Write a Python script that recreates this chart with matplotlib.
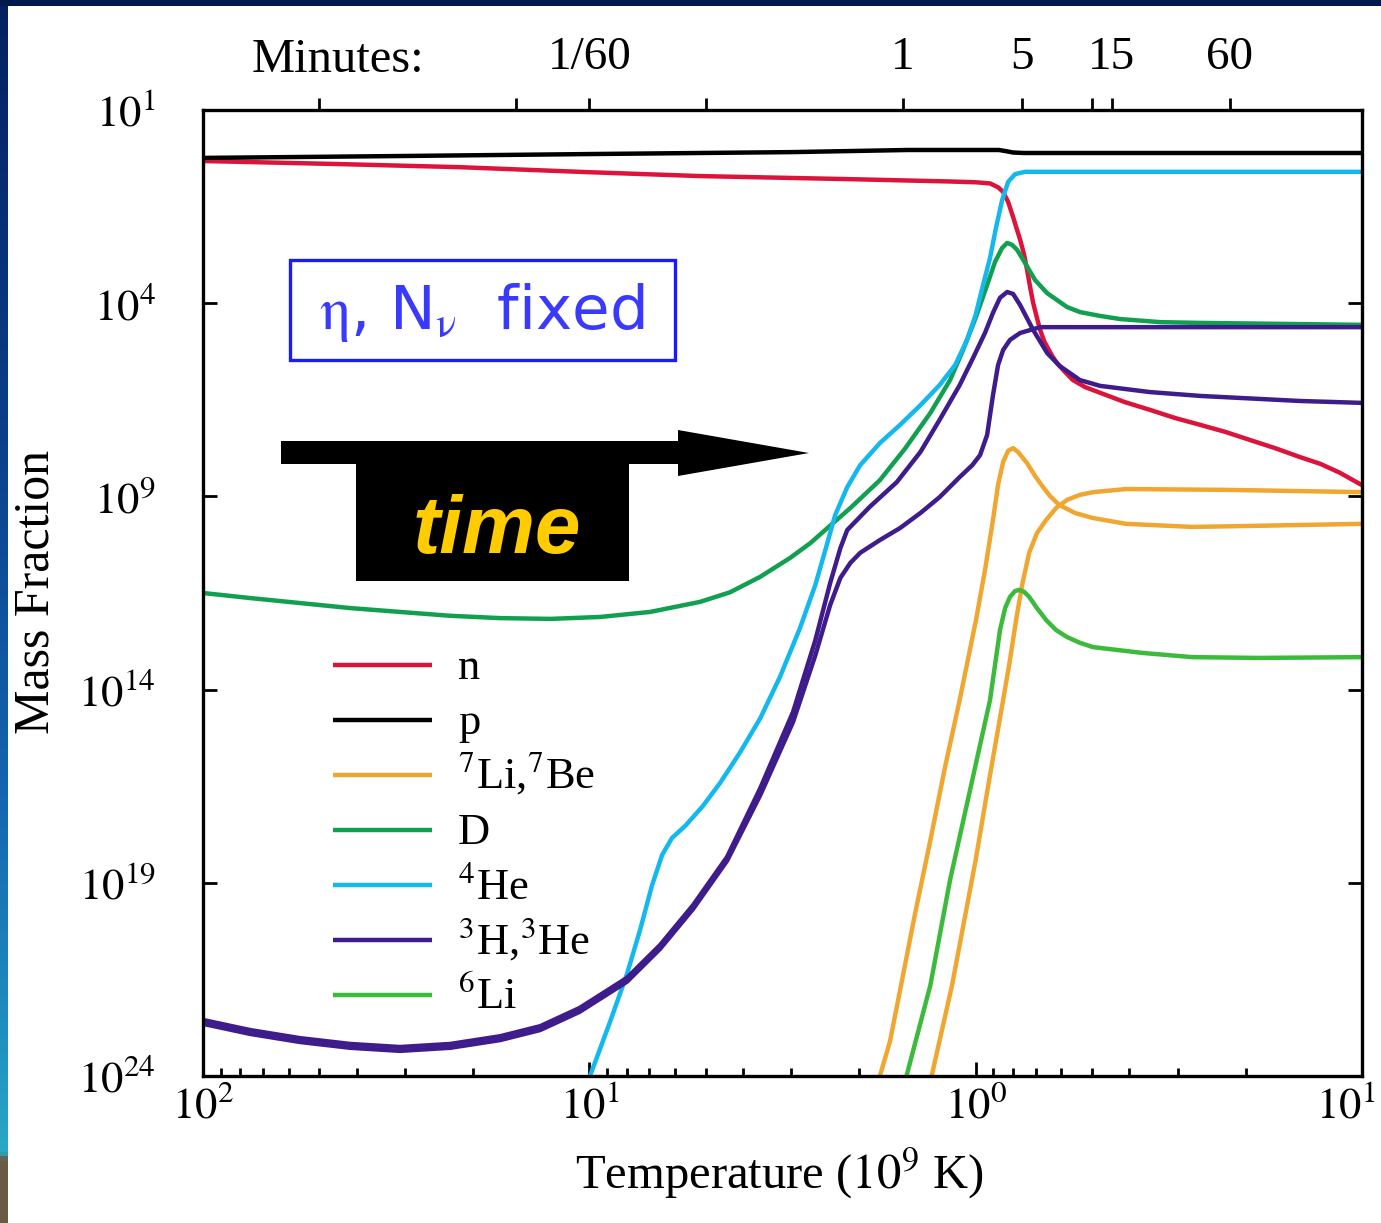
import numpy as np
import matplotlib
matplotlib.use('Agg')
import matplotlib.pyplot as plt
from matplotlib.patches import Rectangle, Polygon
from matplotlib.transforms import Affine2D, ScaledTranslation
from matplotlib.ticker import NullFormatter, FixedLocator
from matplotlib.colors import LinearSegmentedColormap

plt.rcParams['font.family'] = ['Liberation Serif', 'DejaVu Serif']
plt.rcParams['mathtext.fontset'] = 'stix'

# ---- data: temperature in 10^9 K, log10 of mass fraction ----
T_n = [100, 44.2, 21.6, 10.0, 5.17, 2.11, 1.165, 1.0, 0.918, 0.875, 0.849, 0.824, 0.800,
       0.781, 0.767, 0.749, 0.736, 0.723, 0.710, 0.694, 0.681, 0.665, 0.653, 0.634, 0.616,
       0.587, 0.560, 0.521, 0.476, 0.411, 0.354, 0.305, 0.262, 0.226, 0.195, 0.168, 0.145,
       0.128, 0.114, 0.1]
logX_n = [-0.32, -0.40, -0.48, -0.61, -0.71, -0.79, -0.85, -0.87, -0.90, -1.00, -1.12, -1.38,
          -1.77, -2.11, -2.36, -2.75, -3.14, -3.58, -3.99, -4.38, -4.69, -4.98, -5.13, -5.36,
          -5.55, -5.78, -5.99, -6.17, -6.32, -6.56, -6.76, -6.97, -7.15, -7.33, -7.54, -7.75,
          -7.98, -8.16, -8.39, -8.71]

T_p = [100, 30, 10, 3, 1.5, 0.87, 0.83, 0.8, 0.75, 0.1]
logX_p = [-0.24, -0.19, -0.14, -0.09, -0.035, -0.035, -0.07, -0.10, -0.113, -0.113]

T_li7 = [1.77, 1.666, 1.56, 1.435, 1.31, 1.20, 1.10, 0.998, 0.946, 0.902, 0.875, 0.849,
         0.824, 0.800, 0.777, 0.736, 0.702, 0.669, 0.642, 0.608, 0.553, 0.497, 0.408,
         0.275, 0.185, 0.1]
logX_li7 = [-24.0, -23.1, -21.65, -19.8, -17.90, -16.0, -14.27, -12.20, -10.91, -9.61, -8.70,
            -8.11, -7.82, -7.75, -7.85, -8.14, -8.47, -8.76, -8.99, -9.22, -9.43, -9.56,
            -9.71, -9.79, -9.76, -9.71]

T_be7 = [1.30, 1.151, 1.00, 0.918, 0.849, 0.815, 0.786, 0.758, 0.727, 0.694, 0.657, 0.619,
         0.580, 0.537, 0.497, 0.408, 0.226, 0.1]
logX_be7 = [-24.0, -21.65, -18.41, -16.21, -14.27, -13.23, -12.20, -11.29, -10.46, -9.95,
            -9.61, -9.30, -9.09, -8.96, -8.89, -8.81, -8.83, -8.89]

T_d = [100, 75.6, 56.1, 41.6, 30.9, 22.9, 17.0, 12.6, 9.38, 6.96, 5.17, 4.32, 3.61, 3.02,
       2.68, 2.42, 2.11, 1.77, 1.52, 1.31, 1.165, 1.078, 1.00, 0.934, 0.891, 0.854, 0.829,
       0.805, 0.781, 0.745, 0.702, 0.653, 0.580, 0.537, 0.476, 0.423, 0.333, 0.262, 0.1]
logX_d = [-11.50, -11.63, -11.76, -11.89, -11.99, -12.09, -12.15, -12.17, -12.12, -11.99,
          -11.73, -11.48, -11.08, -10.59, -10.21, -9.82, -9.30, -8.58, -7.75, -6.84, -5.99,
          -5.21, -4.38, -3.53, -2.93, -2.57, -2.44, -2.49, -2.62, -2.96, -3.40, -3.74,
          -4.10, -4.23, -4.33, -4.41, -4.49, -4.51, -4.56]

T_he4 = [9.96, 8.84, 7.99, 7.39, 6.88, 6.48, 6.11, 5.65, 5.08, 4.59, 4.07, 3.61, 3.21, 2.85,
         2.60, 2.45, 2.31, 2.15, 1.99, 1.77, 1.57, 1.39, 1.24, 1.13, 1.053, 1.00, 0.957,
         0.918, 0.886, 0.854, 0.824, 0.791, 0.745, 0.1]
logX_he4 = [-24.0, -22.60, -21.36, -20.22, -19.06, -18.28, -17.84, -17.53, -17.01, -16.42,
            -15.62, -14.74, -13.67, -12.41, -11.29, -10.39, -9.48, -8.76, -8.19, -7.62,
            -7.15, -6.64, -6.12, -5.60, -4.95, -4.30, -3.53, -2.83, -2.05, -1.33, -0.86,
            -0.66, -0.60, -0.60]

T_h3 = [100, 75.6, 56.1, 41.6, 30.9, 22.9, 17.0, 13.4, 10.6, 7.99, 6.56, 5.39, 4.40, 3.61,
        2.97, 2.60, 2.38, 2.24, 2.15, 1.88, 1.60, 1.39, 1.24, 1.10, 1.016, 0.946, 0.902,
        0.865, 0.829, 0.800, 0.767, 0.710, 0.653, 0.605, 0.537, 0.476, 0.354, 0.262,
        0.145, 0.1]
logX_h3 = [-22.55, -22.81, -23.02, -23.17, -23.25, -23.17, -22.97, -22.71, -22.24, -21.46,
           -20.61, -19.58, -18.33, -16.55, -14.58, -12.72, -11.24, -10.34, -9.87, -9.27,
           -8.63, -7.85, -7.02, -6.12, -5.42, -4.77, -4.25, -3.86, -3.71, -3.76, -4.05,
           -4.69, -5.29, -5.63, -5.99, -6.14, -6.30, -6.40, -6.53, -6.58]

T_he3 = [100, 75.6, 56.1, 41.6, 30.9, 22.9, 17.0, 13.4, 10.6, 7.99, 6.56, 5.39, 4.40, 3.61,
         2.97, 2.60, 2.38, 2.24, 2.11, 1.99, 1.77, 1.57, 1.39, 1.24, 1.10, 1.02, 0.974,
         0.934, 0.902, 0.875, 0.849, 0.815, 0.767, 0.681, 0.537, 0.1]
logX_he3 = [-22.65, -22.91, -23.12, -23.27, -23.35, -23.27, -23.07, -22.81, -22.34, -21.56,
            -20.71, -19.68, -18.43, -16.73, -14.84, -13.11, -11.81, -11.11, -10.72, -10.46,
            -10.13, -9.82, -9.43, -9.02, -8.50, -8.19, -7.93, -7.41, -6.38, -5.60, -5.21,
            -4.95, -4.77, -4.62, -4.62, -4.62]

T_li6 = [1.51, 1.31, 1.165, 1.034, 0.918, 0.891, 0.865, 0.839, 0.815, 0.791, 0.772, 0.749,
         0.727, 0.694, 0.657, 0.619, 0.580, 0.537, 0.497, 0.371, 0.275, 0.185, 0.1]
logX_li6 = [-24.0, -21.65, -18.93, -16.60, -14.27, -13.36, -12.46, -11.89, -11.60, -11.45,
            -11.42, -11.47, -11.60, -11.89, -12.20, -12.46, -12.64, -12.79, -12.90, -13.05,
            -13.16, -13.18, -13.16]

series = [
    ('n', T_n, logX_n, '#dc143c'),
    ('p', T_p, logX_p, '#000000'),
    ('$^{7}$Li,$^{7}$Be', T_li7, logX_li7, '#f0a732'),
    (None, T_be7, logX_be7, '#f0a732'),
    ('D', T_d, logX_d, '#10a050'),
    ('$^{4}$He', T_he4, logX_he4, '#12b8ee'),
    ('$^{3}$H,$^{3}$He', T_h3, logX_h3, '#3f1c8c'),
    (None, T_he3, logX_he3, '#3f1c8c'),
    ('$^{6}$Li', T_li6, logX_li6, '#3cba3c'),
]

y_tick_vals = [1e1, 1e-4, 1e-9, 1e-14, 1e-19, 1e-24]
y_tick_text = ['$10^{1}$', '$10^{4}$', '$10^{9}$', '$10^{14}$', '$10^{19}$', '$10^{24}$']
x_tick_vals = [100, 10, 1, 0.1]
x_tick_text = ['$10^{2}$', '$10^{1}$', '$10^{0}$', '$10^{1}$']

minute_T = [10.0, 1.545, 0.76, 0.445, 0.22]
minute_text = ['1/60', '1', '5', '15', '60']
minute_minor_T = [50, 15.5, 5, 0.5]

# ---- figure ----
W, H = 1381, 1223
fig = plt.figure(figsize=(W / 100, H / 100), dpi=100)
fig.patch.set_facecolor('#001a4d')
px = Affine2D().scale(1 / W, -1 / H).translate(0, 1) + fig.transFigure

fig.add_artist(Rectangle((8, 6), W, H, transform=px, facecolor='white',
                         edgecolor='none', zorder=-10))

# slide edge on the left
edge = fig.add_axes([0, 0, 8 / W, 1 - 6 / H], zorder=-5)
cmap = LinearSegmentedColormap.from_list('edge', [
    (0.0, '#6a5a44'), (0.05, '#6a5a44'), (0.056, '#2aa8c4'), (0.15, '#2090c0'),
    (0.35, '#1565b0'), (0.65, '#0b3f8a'), (1.0, '#052060')])
edge.imshow(np.linspace(0, 1, 256).reshape(-1, 1), aspect='auto', cmap=cmap,
            origin='lower', extent=[0, 1, 0, 1])
edge.axis('off')

ax = fig.add_axes([203 / W, 1 - 1076 / H, 1159 / W, 966 / H])
ax.set_xscale('log')
ax.set_yscale('log')

for label, T, logX, color in series:
    ax.plot(T, 10 ** np.array(logX), color=color, lw=3.2, solid_joinstyle='round')

ax.set_xlim(100, 0.1)
ax.set_ylim(1e-24, 1e1)

ax.yaxis.set_major_locator(FixedLocator(y_tick_vals))
ax.set_yticklabels(y_tick_text)
ax.yaxis.set_minor_locator(FixedLocator([]))
ax.set_xticks(x_tick_vals)
ax.set_xticklabels(x_tick_text)
ax.xaxis.set_minor_formatter(NullFormatter())

ax.tick_params(which='both', direction='in', top=True, right=True, width=2)
ax.tick_params(which='major', length=10)
ax.tick_params(which='minor', length=6)
ax.tick_params(axis='x', which='major', labelsize=32, pad=7)
ax.tick_params(axis='y', which='major', labelsize=32, pad=34)
for s in ax.spines.values():
    s.set_linewidth(2.4)

# last x label sits at the page edge, nudge it in
last = ax.get_xticklabels()[-1]
last.set_transform(last.get_transform() + ScaledTranslation(-0.16, 0, fig.dpi_scale_trans))

ax.set_xlabel('Temperature ($10^{9}$ K)', fontsize=35)
ax.xaxis.set_label_coords(0.497, -0.072)
ax.set_ylabel('Mass Fraction', fontsize=36)
ax.yaxis.set_label_coords(-0.124, 0.501)

# time axis along the top
ax2 = ax.twiny()
ax2.set_xscale('log')
ax2.set_xlim(100, 0.1)
ax2.set_xticks(minute_T)
ax2.set_xticklabels(minute_text)
ax2.xaxis.set_minor_locator(FixedLocator(minute_minor_T))
ax2.xaxis.set_minor_formatter(NullFormatter())
ax2.tick_params(which='both', direction='out', length=9, width=2)
ax2.tick_params(axis='x', labelsize=34, pad=13)
for s in ax2.spines.values():
    s.set_visible(False)
fig.text(338, 72, 'Minutes:', transform=px, ha='center', va='baseline', fontsize=35)

# legend drawn as short keys with labels
row_y = 0.4255
for label, T, logX, color in series:
    if label is None:
        continue
    ax.plot([0.112, 0.198], [row_y, row_y], transform=ax.transAxes, color=color,
            lw=3.2, solid_capstyle='butt')
    ax.text(0.220, row_y - 0.0145, label, transform=ax.transAxes, fontsize=32,
            ha='left', va='baseline')
    row_y -= 0.0569

# "eta, N_nu fixed" box
fig.add_artist(Rectangle((290, 360), 385, -100, transform=px, facecolor='none',
                         edgecolor='#1a1aff', lw=2.4, zorder=5))
fig.text(482, 313, r'$\mathrm{\eta}$, N$_{\mathrm{\nu}}$  fixed', transform=px,
         ha='center', va='center', fontsize=44, color='#3a3aff', family='DejaVu Sans',
         zorder=6)

# "time" arrow
arrow = [(281, 441), (678, 441), (678, 430), (809, 453), (678, 476), (678, 464),
         (629, 464), (629, 581), (356, 581), (356, 464), (281, 464)]
fig.add_artist(Polygon(arrow, closed=True, transform=px, facecolor='black',
                       edgecolor='none', zorder=5))
fig.text(497, 553, 'time', transform=px, ha='center', va='baseline', fontsize=59,
         color='#ffcc00', family='Liberation Sans', weight='bold', style='italic', zorder=6)

fig.savefig('out.png', dpi=100, facecolor=fig.get_facecolor())
